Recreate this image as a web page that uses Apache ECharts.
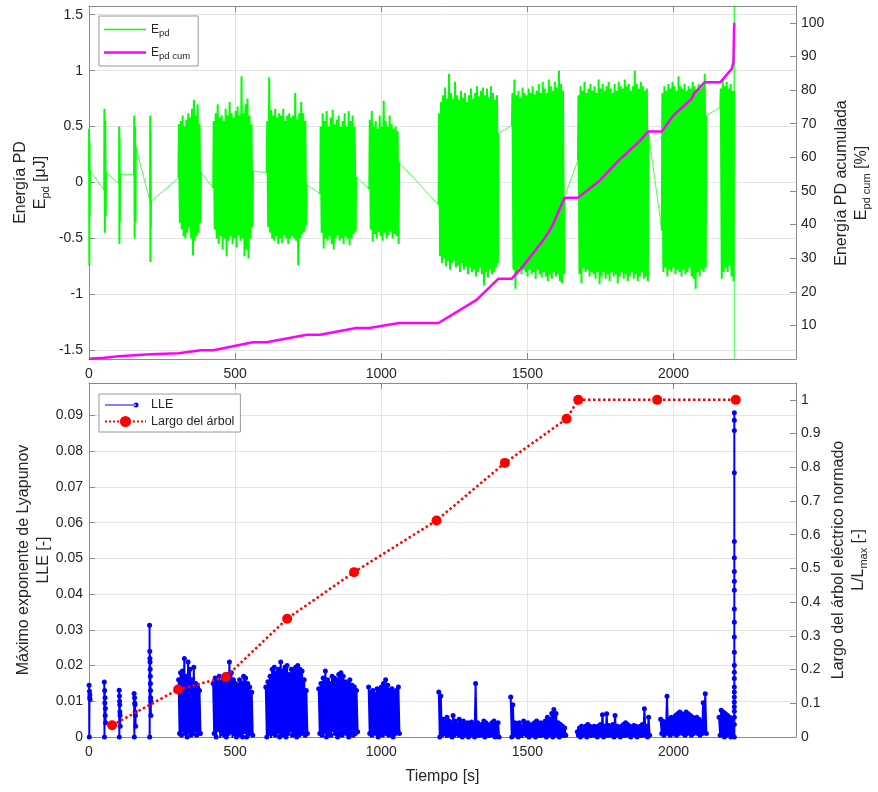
<!DOCTYPE html>
<html>
<head>
<meta charset="utf-8">
<script src="https://cdn.jsdelivr.net/npm/echarts@6/dist/echarts.min.js"></script>
<style>
  html, body { margin: 0; padding: 0; background: #ffffff; }
  #chart { width: 878px; height: 792px; }
</style>
</head>
<body>
<div id="chart"></div>
<script>
// ---------------- Energía PD (upper panel) ----------------
// Discharge bursts: start / end time [s]
const epdBurstStart = [0, 52, 103, 154, 209, 306, 425, 608, 791, 959, 1196, 1447, 1673, 1960, 2160];
const epdBurstEnd   = [3, 58, 106, 160, 212, 383, 561, 745, 914, 1061, 1401, 1627, 1914, 2112, 2207];
// first and last sample of every burst [uJ]
const epdEntry = [0.1, -0.07, -0.01, 0.07, -0.17, 0.04, -0.05, 0.09, -0.1, -0.06, -0.2, 0.51, 0.2, -0.43, 0.67];
const epdExit  = [0.11, 0.09, 0.07, 0.32, -0.17, 0.095, 0.1, -0.02, 0.05, 0.18, 0.44, -0.13, 0.45, 0.6, 0.82];
// positive / negative peaks inside each burst [uJ]
const epdPeakHigh = [
  [0.48, 0.36],
  [0.66, 0.55],
  [0.5, 0.4],
  [0.6, 0.5],
  [0.6, 0.45],
  [0.52, 0.55, 0.6, 0.5, 0.56, 0.62, 0.58, 0.66, 0.74, 0.6, 0.7, 0.52],
  [0.55, 0.62, 0.7, 0.58, 0.6, 0.55, 0.66, 0.6, 0.72, 0.62, 0.58, 0.64, 0.68, 0.6, 0.95, 0.62, 0.7, 0.75, 0.6, 0.52],
  [0.55, 0.94, 0.65, 0.6, 0.66, 0.58, 0.62, 0.6, 0.66, 0.55, 0.6, 0.62, 0.58, 0.6, 0.8, 0.56, 0.62, 0.72, 0.62, 0.55],
  [0.5, 0.62, 0.55, 0.64, 0.5, 0.58, 0.65, 0.52, 0.56, 0.6, 0.5, 0.55, 0.62, 0.5, 0.64, 0.55, 0.6, 0.5],
  [0.56, 0.64, 0.5, 0.55, 0.48, 0.6, 0.5, 0.73, 0.55, 0.5, 0.6, 0.52, 0.48, 0.5, 0.46],
  [0.62, 0.72, 0.78, 0.85, 0.75, 0.97, 0.8, 0.75, 0.9, 0.78, 0.74, 0.82, 0.76, 0.8, 0.72, 0.78, 0.84, 0.75, 0.8, 0.86, 0.77, 0.82, 0.85, 0.78, 0.84, 0.76, 0.86, 0.8, 0.74, 0.78],
  [0.8, 0.92, 0.78, 0.82, 0.76, 0.85, 0.8, 0.78, 0.84, 0.8, 0.86, 0.79, 0.82, 0.88, 0.8, 0.9, 0.84, 0.8, 0.92, 0.86, 0.82, 0.9, 0.85, 1.0, 0.88, 0.82],
  [0.78, 0.86, 0.82, 0.9, 0.8, 0.84, 0.88, 0.82, 0.86, 0.8, 0.92, 0.84, 0.88, 0.82, 0.86, 0.9, 0.84, 0.8, 0.88, 0.82, 0.9, 0.86, 0.84, 0.92, 0.86, 0.88, 0.82, 0.86, 1.0, 0.88, 0.84, 0.9, 0.86, 0.82, 0.84],
  [0.8, 0.86, 0.82, 0.88, 0.84, 0.9, 0.86, 0.82, 0.95, 0.86, 0.84, 0.88, 0.82, 0.86, 0.84, 0.9, 0.86, 0.82, 0.88, 0.84, 0.86, 0.97],
  [0.84, 0.93, 0.86, 0.9, 0.84, 0.88, 0.82]
];
const epdPeakLow = [
  [-0.74, -0.3],
  [-0.45, -0.3],
  [-0.55, -0.35],
  [-0.5, -0.35],
  [-0.71, -0.4],
  [-0.36, -0.42, -0.48, -0.5, -0.45, -0.4, -0.5, -0.65, -0.52, -0.48, -0.45, -0.36],
  [-0.42, -0.5, -0.55, -0.48, -0.6, -0.5, -0.66, -0.52, -0.48, -0.55, -0.5, -0.58, -0.47, -0.52, -0.5, -0.66, -0.6, -0.68, -0.5, -0.4],
  [-0.4, -0.45, -0.5, -0.52, -0.48, -0.55, -0.5, -0.54, -0.47, -0.5, -0.55, -0.5, -0.48, -0.5, -0.52, -0.74, -0.5, -0.46, -0.44, -0.38],
  [-0.45, -0.59, -0.5, -0.52, -0.48, -0.55, -0.6, -0.5, -0.47, -0.52, -0.5, -0.55, -0.48, -0.5, -0.56, -0.5, -0.46, -0.44],
  [-0.42, -0.53, -0.46, -0.5, -0.44, -0.48, -0.52, -0.45, -0.5, -0.47, -0.44, -0.5, -0.46, -0.48, -0.55],
  [-0.66, -0.72, -0.68, -0.75, -0.7, -0.78, -0.72, -0.7, -0.76, -0.74, -0.8, -0.72, -0.78, -0.75, -0.82, -0.76, -0.8, -0.78, -0.84, -0.8, -0.76, -0.82, -0.92, -0.8, -0.85, -0.78, -0.82, -0.8, -0.76, -0.72],
  [-0.78, -0.95, -0.8, -0.76, -0.82, -0.78, -0.8, -0.84, -0.78, -0.82, -0.8, -0.86, -0.78, -0.82, -0.85, -0.8, -0.84, -0.88, -0.82, -0.86, -0.8, -0.84, -0.82, -0.88, -0.9, -0.82],
  [-0.82, -0.9, -0.76, -0.8, -0.78, -0.84, -0.8, -0.82, -0.86, -0.8, -0.91, -0.84, -0.8, -0.86, -0.82, -0.88, -0.8, -0.84, -0.82, -0.9, -0.84, -0.8, -0.86, -0.82, -0.88, -0.84, -0.8, -0.86, -0.82, -0.88, -0.84, -0.8, -0.86, -0.84, -0.88],
  [-0.8, -0.76, -0.84, -0.78, -0.8, -0.76, -0.82, -0.78, -0.8, -0.84, -0.78, -0.82, -0.8, -0.76, -0.84, -0.86, -0.95, -0.8, -0.84, -0.78, -0.8, -0.76],
  [-0.86, -0.8, -0.76, -0.8, -0.74, -0.84, -0.88]
];
// breakdown event at the end of the test (off scale)
const epdBreakdownTime = 2208;
const epdBreakdownValues = [3.2, -3.4];

// cumulative energy [%]
const epdCumTime = [0, 3, 52, 58, 103, 106, 154, 160, 209, 212, 306, 383, 425, 561, 608, 745, 791, 914, 959, 1061,
  1196, 1326, 1401, 1447, 1491, 1554, 1583, 1627, 1673, 1744, 1813, 1884, 1914, 1960, 1999, 2062, 2066, 2071, 2106, 2160,
  2199, 2205, 2207, 2208];
const epdCumPct = [0.1, 0.3, 0.4, 0.6, 0.8, 1.0, 1.1, 1.3, 1.4, 1.7, 1.7, 2.6, 2.6, 5.0, 5.0, 7.2, 7.2, 9.2, 9.2, 10.7,
  10.7, 17.6, 23.9, 23.9, 28.3, 35.3, 39.2, 48.0, 48.0, 52.8, 59.1, 64.8, 67.7, 67.7, 72.4, 77.4, 78.2, 79.1, 82.3, 82.3,
  86.3, 88.3, 98, 100];

// ---------------- LLE / tree length (lower panel) ----------------
const lleClusterStart = [0, 52, 103, 154, 207, 305, 423, 603, 784, 955, 1195, 1441, 1669, 1954, 2154];
const lleClusterEnd   = [4, 57, 107, 160, 212, 383, 562, 749, 921, 1064, 1405, 1633, 1920, 2114, 2205];
const lleHigh = [
  [0.0145, 0.0128, 0.0118],
  [0.0154, 0.013, 0.011, 0.008],
  [0.0131, 0.0115, 0.009, 0.006],
  [0.0122, 0.011, 0.009, 0.006],
  [0.0313, 0.024, 0.021, 0.017, 0.013, 0.01],
  [0.016, 0.018, 0.0185, 0.022, 0.017, 0.021, 0.019, 0.016, 0.0195, 0.015, 0.014, 0.013],
  [0.015, 0.0165, 0.016, 0.017, 0.0155, 0.016, 0.017, 0.0175, 0.021, 0.018, 0.016, 0.015, 0.0145, 0.016, 0.015, 0.017, 0.0165, 0.015, 0.014, 0.0125],
  [0.014, 0.0155, 0.017, 0.019, 0.0195, 0.018, 0.019, 0.021, 0.0185, 0.0195, 0.02, 0.0175, 0.019, 0.0185, 0.0195, 0.02, 0.019, 0.0185, 0.016, 0.013],
  [0.0135, 0.015, 0.0165, 0.0185, 0.016, 0.015, 0.017, 0.0165, 0.016, 0.0175, 0.018, 0.017, 0.0155, 0.015, 0.016, 0.0145, 0.014, 0.013],
  [0.014, 0.0125, 0.013, 0.012, 0.0135, 0.013, 0.014, 0.015, 0.016, 0.0145, 0.013, 0.0135, 0.0125, 0.013, 0.014],
  [0.0126, 0.0115, 0.005, 0.0042, 0.0055, 0.0045, 0.004, 0.006, 0.0045, 0.0035, 0.005, 0.004, 0.0045, 0.0035, 0.004, 0.0038, 0.0042, 0.0035, 0.015, 0.004, 0.003, 0.0035, 0.0045, 0.004, 0.0035, 0.003, 0.004, 0.0045, 0.0035, 0.004],
  [0.0112, 0.009, 0.004, 0.0035, 0.004, 0.003, 0.0045, 0.0035, 0.004, 0.003, 0.0035, 0.004, 0.0045, 0.0035, 0.004, 0.0035, 0.0045, 0.0055, 0.005, 0.0066, 0.0077, 0.0066, 0.004, 0.0035, 0.003, 0.0025],
  [0.0015, 0.0025, 0.003, 0.0025, 0.003, 0.0035, 0.003, 0.0025, 0.003, 0.0028, 0.003, 0.0035, 0.0062, 0.003, 0.0065, 0.0032, 0.003, 0.0035, 0.006, 0.003, 0.0025, 0.003, 0.0035, 0.004, 0.0035, 0.003, 0.0028, 0.0032, 0.003, 0.0025, 0.003, 0.0035, 0.0079, 0.003, 0.0055],
  [0.005, 0.0045, 0.004, 0.0114, 0.005, 0.0055, 0.005, 0.006, 0.0065, 0.007, 0.0065, 0.006, 0.007, 0.0065, 0.006, 0.0055, 0.005, 0.0055, 0.005, 0.0045, 0.0096, 0.0121],
  [0.0055, 0.0075, 0.007, 0.0065, 0.006, 0.0055, 0.005]
];
const lleLow = [
  [0, 0.011, 0.0105],
  [0, 0.0095, 0.006, 0.004],
  [0, 0.01, 0.007, 0.003],
  [0, 0.0095, 0.007, 0.003],
  [0, 0.022, 0.019, 0.015, 0.011, 0.006],
  [0.001, 0.0005, 0.002, 0.001, 0, 0.0015, 0.0005, 0.001, 0.002, 0.0005, 0.001, 0.001],
  [0.001, 0, 0.002, -0.0005, 0.001, 0.0005, 0, 0.001, 0.0015, -0.0005, 0.001, 0, 0.0005, 0.001, 0, 0.0015, 0, -0.0005, 0.001, 0.0005],
  [0, 0.001, -0.0005, 0.001, 0.0005, 0.0015, 0, 0.001, 0.0005, 0, 0.001, 0.002, 0.0005, 0.001, 0, 0.0005, 0.001, 0.0015, 0.0005, 0.001],
  [0.001, 0.0005, 0.0015, 0, 0.001, 0.0005, 0.002, 0.001, 0, 0.001, 0.0005, 0.0015, 0.001, 0, 0.001, 0.0005, 0.001, 0.0015],
  [0.001, 0.0005, 0.0015, 0.001, 0, 0.001, 0.0005, 0.0015, 0.001, 0.0005, 0.001, 0, 0.001, 0.0015, 0.001],
  [0, 0.0005, 0.001, -0.0003, 0.0005, 0.001, 0, 0.0005, 0.001, -0.0003, 0.0005, 0, 0.001, 0.0005, 0, 0.0005, 0.001, 0, 0.0005, -0.0003, 0.0005, 0.001, 0, 0.0005, -0.0003, 0.0005, 0.001, 0, 0.0005, 0],
  [0, 0.0005, 0.001, 0, 0.0005, -0.0003, 0.001, 0.0005, 0, 0.0005, 0.001, 0, 0.0005, -0.0003, 0.0005, 0.001, 0, 0.0005, 0.001, 0, 0.0005, 0.001, 0, 0.0005, -0.0003, 0.0005],
  [0.0005, 0, 0.0005, 0.001, 0, 0.0005, -0.0003, 0.0005, 0.001, 0, 0.0005, 0.001, 0, 0.0005, -0.0003, 0.0005, 0.001, 0, 0.0005, 0.001, 0, 0.0005, -0.0003, 0.0005, 0.001, 0, 0.0005, 0.001, 0, 0.0005, -0.0003, 0.0005, 0.001, 0, 0.0005],
  [0.001, 0.0005, 0.0015, 0.001, 0.0005, 0.001, 0.0015, 0.0005, 0.001, 0.0015, 0.001, 0.0005, 0.001, 0.0015, 0.0005, 0.001, 0.0015, 0.001, 0.0005, 0.001, 0.0015, 0.001],
  [0.0005, 0.001, 0, 0.0005, 0.001, 0, 0.0005]
];
// LLE values at the breakdown instant
const lleBreakdownTime = 2208;
const lleBreakdownValues = [0, 0.0035, 0.0055, 0.0072, 0.0085, 0.0098, 0.0112, 0.0126, 0.014, 0.0164, 0.0181, 0.0201,
  0.0237, 0.028, 0.0321, 0.0358, 0.0411, 0.0436, 0.0463, 0.0502, 0.0547, 0.074, 0.0858, 0.0887, 0.0908];

// normalised electrical-tree length L/Lmax
const treeTime   = [79, 305, 468, 678, 907, 1189, 1423, 1634, 1674, 1944, 2213];
const treeLength = [0.035, 0.141, 0.178, 0.351, 0.489, 0.642, 0.813, 0.944, 1.0, 1.0, 1.0];

// ---------------- helpers ----------------
// Lay the peaks of each burst out in time, alternating positive and negative peak;
// bursts are separated by a gap so that the body trace does not join them.
function burstTrace(starts, ends, highs, lows, entry, exit) {
  const out = [];
  for (let k = 0; k < starts.length; k++) {
    const a = starts[k], b = ends[k], n = highs[k].length, step = (b - a) / n;
    if (k > 0) out.push([a, '-']);
    if (entry) out.push([a, entry[k]]);
    for (let i = 0; i < n; i++) {
      out.push([a + step * (i + 0.25), highs[k][i]]);
      out.push([a + step * (i + 0.75), lows[k][i]]);
    }
    if (exit) out.push([b, exit[k]]);
  }
  return out;
}
// Thin segments that join the last sample of a burst to the first sample of the next.
function burstLinks(starts, ends, entry, exit) {
  const out = [];
  for (let k = 0; k + 1 < starts.length; k++) {
    if (k > 0) out.push([ends[k], '-']);
    out.push([ends[k], exit[k]]);
    out.push([starts[k + 1], entry[k + 1]]);
  }
  const last = starts.length - 1;
  out.push([ends[last], '-']);
  out.push([ends[last], exit[last]]);
  epdBreakdownValues.forEach(v => out.push([epdBreakdownTime, v]));
  return out;
}
const zip = (xs, ys) => xs.map((x, i) => [x, ys[i]]);

const epdBody = burstTrace(epdBurstStart, epdBurstEnd, epdPeakHigh, epdPeakLow, epdEntry, epdExit);
const epdLinks = burstLinks(epdBurstStart, epdBurstEnd, epdEntry, epdExit);
const lleData = burstTrace(lleClusterStart, lleClusterEnd, lleHigh, lleLow, null, null)
  .concat([[lleBreakdownTime, '-']])
  .concat(lleBreakdownValues.map(v => [lleBreakdownTime, v]));

// ---------------- styling ----------------
const FONT = '"Liberation Sans", Arial, Helvetica, sans-serif';
const TXT = '#262626';
const AXIS = '#8a8a8a';
const GRIDC = '#e4e4e4';
const X_MAX = 2419;
const plainNumber = v => String(+v.toFixed(6));

function xAxisDef(grid, pos, labels) {
  return {
    type: 'value', gridIndex: grid, position: pos, min: 0, max: X_MAX, interval: 500,
    axisLine: { show: true, onZero: false, lineStyle: { color: AXIS, width: 1 } },
    axisTick: { show: true, inside: true, length: 6, lineStyle: { color: AXIS } },
    axisLabel: { show: labels, fontSize: 14, color: TXT, fontFamily: FONT, margin: 8, showMaxLabel: false,
                 formatter: plainNumber },
    splitLine: { show: pos === 'bottom', lineStyle: { color: GRIDC, width: 1 } }
  };
}
function yAxisDef(grid, pos, min, max, opts) {
  return Object.assign({
    type: 'value', gridIndex: grid, position: pos, min: min, max: max,
    axisLine: { show: true, onZero: false, lineStyle: { color: AXIS, width: 1 } },
    axisTick: { show: true, inside: true, length: 6, lineStyle: { color: AXIS } },
    axisLabel: { fontSize: 14, color: TXT, fontFamily: FONT, margin: pos === 'left' ? 6 : 5,
                 showMaxLabel: false, formatter: plainNumber },
    splitLine: { show: pos === 'left', lineStyle: { color: GRIDC, width: 1 } }
  }, opts || {});
}

const richTitle = {
  m: { fontSize: 16, lineHeight: 20, fontFamily: FONT, color: TXT },
  s: { fontSize: 11, lineHeight: 10, padding: [10, 0, 0, 0], fontFamily: FONT, color: TXT }
};
function vTitle(x, y, text) {
  return {
    type: 'text', x: x, y: y, rotation: Math.PI / 2, silent: true,
    style: { text: text, rich: richTitle, align: 'center', verticalAlign: 'middle', font: '16px ' + FONT, fill: TXT }
  };
}

const chart = echarts.init(document.getElementById('chart'), null, { renderer: 'canvas' });
chart.setOption({
  animation: false,
  backgroundColor: '#ffffff',
  grid: [
    { left: 89, top: 6, width: 707, height: 353, containLabel: false },
    { left: 89, top: 383, width: 707, height: 354, containLabel: false }
  ],
  xAxis: [
    xAxisDef(0, 'bottom', true),
    xAxisDef(0, 'top', false),
    xAxisDef(1, 'bottom', true),
    xAxisDef(1, 'top', false)
  ],
  yAxis: [
    yAxisDef(0, 'left', -1.578, 1.578, {
      splitNumber: 5,
      axisLabel: { fontSize: 14, color: TXT, fontFamily: FONT, margin: 6, showMinLabel: false, showMaxLabel: false,
        formatter: v => Math.abs(v * 2 - Math.round(v * 2)) < 1e-6 ? String(Math.round(v * 2) / 2) : '' }
    }),
    yAxisDef(0, 'right', 0, 105, {
      interval: 10,
      axisLabel: { fontSize: 14, color: TXT, fontFamily: FONT, margin: 5, showMinLabel: false, showMaxLabel: false }
    }),
    yAxisDef(1, 'left', 0, 0.0991, { interval: 0.01 }),
    yAxisDef(1, 'right', 0, 1.05, { interval: 0.1 })
  ],
  legend: [
    {
      orient: 'vertical', left: 99, top: 16, itemWidth: 42, itemHeight: 14, itemGap: 6,
      padding: [5, 8, 5, 5], borderColor: '#9a9a9a', borderWidth: 1, backgroundColor: '#ffffff', borderRadius: 0,
      data: [
        { name: 'Epd', icon: 'path://M0,6.25L42,6.25L42,7.75L0,7.75Z M0,0L0,0 M0,14L0,14',
          itemStyle: { color: '#00ff00', opacity: 1, borderWidth: 0 } },
        { name: 'Epd cum', icon: 'path://M0,5.75L42,5.75L42,8.25L0,8.25Z M0,0L0,0 M0,14L0,14',
          itemStyle: { color: '#ff00ff', opacity: 1, borderWidth: 0 } }
      ],
      formatter: name => name === 'Epd' ? '{m|E}{s|pd}' : '{m|E}{s|pd cum}',
      textStyle: {
        color: TXT, fontFamily: FONT, fontSize: 12,
        rich: {
          m: { fontSize: 12, lineHeight: 16, fontFamily: FONT, color: TXT },
          s: { fontSize: 9.5, lineHeight: 9, padding: [7, 0, 0, 0], fontFamily: FONT, color: TXT }
        }
      }
    },
    {
      orient: 'vertical', left: 99, top: 394, itemWidth: 41, itemHeight: 14, itemGap: 3,
      padding: [4, 6, 4, 5], borderColor: '#9a9a9a', borderWidth: 1, backgroundColor: '#ffffff', borderRadius: 0,
      data: [
        { name: 'LLE', icon: 'path://M0,6.5L31,6.5L31,7.5L0,7.5Z M28.5,7A2.5,2.5 0 1 0 33.5,7A2.5,2.5 0 1 0 28.5,7Z M41,0L41,0 M41,14L41,14',
          itemStyle: { color: '#0000ff', opacity: 1, borderWidth: 0 } },
        'Largo del árbol'
      ],
      textStyle: { color: TXT, fontFamily: FONT, fontSize: 12.5 }
    }
  ],
  series: [
    {
      name: 'Epd', type: 'line', xAxisIndex: 0, yAxisIndex: 0, data: epdLinks, connectNulls: false,
      symbol: 'none', lineStyle: { color: '#00ff00', width: 1, opacity: 0.7 }, itemStyle: { color: '#00ff00' }, z: 2
    },
    {
      name: 'Epd', type: 'line', xAxisIndex: 0, yAxisIndex: 0, data: epdBody, connectNulls: false,
      symbol: 'none', lineStyle: { color: '#00ff00', width: 2 }, itemStyle: { color: '#00ff00' }, z: 2
    },
    {
      name: 'Epd cum', type: 'line', xAxisIndex: 0, yAxisIndex: 1, data: zip(epdCumTime, epdCumPct),
      symbol: 'none', lineStyle: { color: '#ff00ff', width: 2.5 }, itemStyle: { color: '#ff00ff' }, z: 3
    },
    {
      name: 'LLE', type: 'line', xAxisIndex: 2, yAxisIndex: 2, data: lleData, connectNulls: false,
      symbol: 'circle', symbolSize: 5, showSymbol: true, showAllSymbol: true,
      itemStyle: { color: '#0000ff' }, lineStyle: { color: '#0000ff', width: 2 }, z: 2
    },
    {
      name: 'Largo del árbol', type: 'line', xAxisIndex: 2, yAxisIndex: 3, data: zip(treeTime, treeLength),
      symbol: 'circle', symbolSize: 10, showSymbol: true,
      itemStyle: { color: '#ff0000' }, lineStyle: { color: '#ff0000', width: 2.5, type: 'dotted' }, z: 4
    }
  ],
  graphic: [
    vTitle(30.5, 182.5, '{m|Energía PD}\n{m|E}{s|pd}{m| [μJ]}'),
    vTitle(852, 183, '{m|Energía PD acumulada}\n{m|E}{s|pd cum}{m| [%]}'),
    vTitle(34, 560, '{m|Máximo exponente de Lyapunov}\n{m|LLE [-]}'),
    vTitle(848.5, 560, '{m|Largo del árbol eléctrico normado}\n{m|L/L}{s|max}{m| [-]}'),
    {
      type: 'text', x: 442.5, y: 777, silent: true,
      style: { text: 'Tiempo [s]', font: '16px ' + FONT, fill: TXT, align: 'center', verticalAlign: 'middle' }
    }
  ]
});
</script>
</body>
</html>
